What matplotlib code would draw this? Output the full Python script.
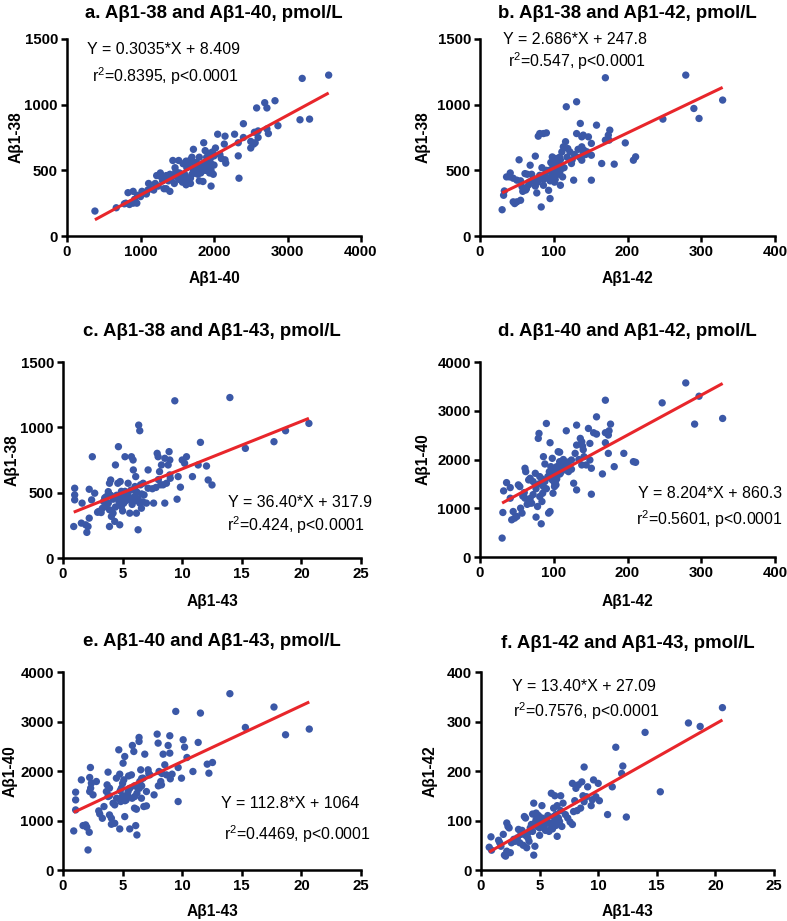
import matplotlib
matplotlib.use('Agg')
import matplotlib.pyplot as plt
import numpy as np

plt.rcParams['font.family'] = ['Liberation Sans', 'DejaVu Sans']
plt.rcParams['mathtext.fontset'] = 'custom'
plt.rcParams['mathtext.rm'] = 'Liberation Sans'
plt.rcParams['mathtext.it'] = 'Liberation Sans'
plt.rcParams['mathtext.bf'] = 'Liberation Sans:bold'
plt.rcParams['mathtext.default'] = 'regular'

# ---------------- data ----------------
# a. Abeta1-38 vs Abeta1-40
a_x = [380, 670, 3200, 3560, 3170, 3300, 2870, 2830, 2690, 2580, 2720, 2720, 2740, 2340, 2400,
       2280, 2330, 2330, 2050, 2150, 2140, 2600, 2500, 2500, 2550, 2400, 2560, 2150, 2160, 1960,
       1940, 1940, 2020, 2000, 1860, 1720, 1700, 1720, 1800, 1880, 1900, 1950, 2080, 2100, 1800,
       1850, 1600, 1620, 1580, 1620, 1650, 1440, 1520, 1480, 1450, 1500, 1530, 1550, 1560, 1600,
       1620, 1650, 1680, 1700, 1720, 1750, 1780, 1800, 1830, 1850, 1870, 1900, 1930, 1960, 1980,
       1400, 1420, 1380, 1400, 1350, 1300, 1270, 1220, 1200, 1240, 1150, 1100, 1050, 1020, 1000,
       960, 900, 830, 920, 900, 850, 800, 780, 950, 1080, 1180, 1320, 1460, 1530, 1570,
       1680, 1740, 1780, 1820, 1880, 1920, 1960, 2000, 1990, 1630, 1470, 1350, 1680, 1760, 2600,
       2540, 1280, 1110]
a_y = [190, 215, 1200, 1225, 885, 890, 840, 1030, 1015, 975, 975, 815, 780, 440, 855,
       775, 710, 610, 775, 760, 700, 750, 720, 670, 790, 750, 710, 580, 555, 380,
       480, 630, 670, 610, 710, 660, 600, 560, 600, 650, 560, 560, 620, 590, 420,
       415, 420, 390, 550, 570, 540, 575, 575, 490, 460, 450, 480, 440, 470, 470,
       450, 430, 440, 470, 500, 520, 510, 530, 540, 520, 560, 600, 580, 600, 640,
       470, 440, 420, 340, 360, 420, 480, 460, 400, 380, 360, 350, 330, 340, 300,
       310, 340, 330, 280, 250, 240, 250, 245, 250, 320, 350, 360, 400, 430, 410,
       400, 480, 470, 480, 500, 520, 500, 540, 470, 520, 520, 460, 580, 560, 800,
       700, 450, 400]

# b. Abeta1-38 vs Abeta1-42
b_x = [30, 32, 33, 36, 40, 41, 45, 50, 47, 53, 50, 55, 57, 61, 63, 67, 68, 72, 75, 77,
       79, 81, 86, 90, 81, 86, 90, 93, 95, 83, 97, 99, 102, 104, 106, 98, 108, 111, 113, 109,
       117, 131, 116, 119, 124, 127, 131, 136, 138, 140, 138, 141, 138, 145, 147, 151, 151, 151, 158, 165,
       170, 170, 174, 176, 175, 182, 197, 208, 211, 248, 279, 290, 297, 329,
       88, 92, 95, 97, 100, 100, 102, 104, 105, 107, 108, 110, 112, 98, 103, 106, 94, 96, 101, 109,
       114, 118, 122, 125, 128, 133, 135, 140, 143, 84, 80, 78, 75, 72, 70, 66, 62, 58, 55, 45,
       64, 86]
b_y = [200, 310, 343, 450, 450, 480, 260, 260, 247, 580, 425, 272, 374, 475, 361, 412, 539, 437, 608, 328,
       760, 780, 780, 785, 462, 386, 500, 348, 285, 221, 450, 500, 539, 577, 526, 602, 600, 640, 679, 386,
       984, 1022, 718, 666, 552, 425, 780, 857, 755, 768, 679, 653, 577, 641, 755, 705, 615, 425, 844, 552,
       730, 1205, 768, 806, 730, 547, 709, 577, 603, 890, 1225, 971, 895, 1035,
       470, 440, 420, 480, 460, 520, 430, 500, 560, 540, 480, 510, 450, 545, 590, 470, 500, 560, 410, 580,
       520, 600, 640, 580, 620, 660, 600, 640, 620, 520, 440, 410, 380, 420, 470, 390, 350, 340, 420, 440,
       470, 430]

# c. Abeta1-38 vs Abeta1-43
c_x = [0.9, 0.98, 0.98, 0.98, 1.54, 1.6, 1.9, 2.0, 2.1, 2.2, 2.2, 2.46, 2.4, 2.66, 3.0, 3.2, 3.4, 3.6, 3.64, 3.8,
       3.9, 4.0, 3.9, 4.06, 3.9, 4.2, 4.34, 4.4, 4.65, 4.6, 4.8, 4.6, 4.76, 4.9, 5.04, 5.2, 5.1, 5.26, 5.46, 5.6,
       5.74, 5.88, 5.9, 6.1, 6.04, 6.16, 6.16, 6.3, 6.35, 6.44, 6.44, 6.58, 6.72, 6.8, 7.0, 7.14, 7.14, 7.6, 7.9, 7.98,
       8.1, 8.2, 8.26, 8.54, 8.54, 8.68, 8.82, 8.9, 8.96, 8.96, 9.38, 9.57, 9.66, 9.85, 10.0, 10.2, 10.36, 10.86, 11.34, 11.53,
       12.04, 12.18, 12.5, 14.0, 15.3, 17.7, 18.67, 20.63,
       4.2, 4.5, 4.7, 4.9, 5.0, 5.1, 5.3, 5.4, 5.5, 5.6, 5.7, 5.8, 6.0, 6.2, 6.3, 6.5, 6.6, 4.0, 3.5, 3.8,
       4.4, 5.0, 5.2, 6.1, 6.7, 2.9, 3.3, 7.5, 8.0, 8.4, 9.0, 7.8]
c_y = [241, 534, 483, 445, 267, 420, 254, 196, 241, 305, 526, 775, 445, 496, 356, 348, 432, 394, 470, 508,
       572, 597, 369, 318, 241, 343, 280, 712, 852, 572, 585, 470, 254, 394, 470, 775, 432, 483, 572, 343,
       775, 750, 674, 623, 547, 508, 343, 216, 1017, 974, 420, 381, 572, 483, 420, 534, 674, 420, 801, 775,
       661, 560, 712, 763, 420, 572, 712, 814, 750, 636, 1203, 450, 623, 542, 750, 725, 775, 623, 712, 885,
       704, 597, 559, 1228, 839, 890, 974, 1030,
       450, 480, 430, 510, 460, 420, 440, 500, 470, 450, 520, 410, 470, 500, 450, 560, 490, 480, 460, 420,
       390, 360, 510, 440, 430, 350, 380, 530, 600, 560, 610, 540]

# d. Abeta1-40 vs Abeta1-42
d_x = [30, 31, 32, 36, 41, 41, 45, 43, 47, 50, 52, 54, 55, 57, 61, 62, 60, 61, 66, 68,
       67, 70, 72, 75, 76, 78, 79, 80, 81, 81, 83, 84, 85, 86, 86, 88, 90, 93, 95, 95,
       96, 97, 98, 99, 101, 102, 103, 104, 106, 108, 109, 111, 113, 117, 118, 120, 124, 127, 129, 131,
       131, 131, 136, 138, 138, 139, 141, 144, 147, 149, 149, 151, 151, 154, 158, 158, 166, 170, 170, 170,
       174, 175, 177, 174, 182, 195, 208, 211, 247, 279, 291, 297, 329,
       88, 92, 95, 98, 100, 102, 104, 106, 108, 110, 112, 115, 118, 98, 101, 103, 96, 94, 108, 113,
       90, 84, 80, 76, 72, 68, 64, 58, 120, 124, 134, 140]
d_y = [388, 913, 1356, 1526, 1424, 1206, 933, 763, 797, 831, 1479, 1445, 1002, 900, 1820, 1751, 1322, 1206, 1581, 1615,
       1104, 1104, 1547, 1717, 818, 1036, 2433, 2535, 1649, 1240, 681, 1138, 1308, 1445, 2058, 1908, 2739, 900, 933, 2344,
       1853, 1751, 2024, 1308, 1445, 1547, 1683, 1853, 2160, 1956, 1717, 1922, 1785, 2589, 1853, 1751, 1990, 1513, 2126, 2705,
       2296, 1376, 2433, 2364, 1888, 2276, 2058, 1888, 2637, 2330, 1990, 1820, 1288, 2549, 2521, 2875, 1704, 3216, 2549, 2344,
       2501, 2589, 2726, 2126, 1853, 2126, 1956, 1942, 3162, 3571, 2726, 3298, 2842,
       1550, 1650, 1700, 1580, 1750, 1650, 1600, 1800, 1700, 1900, 1850, 1950, 1780, 1820, 1520, 1480, 1620, 1750, 2150, 2000,
       1400, 1600, 1500, 1400, 1280, 1200, 1080, 1250, 1950, 1800, 2000, 2200]

# e. Abeta1-40 vs Abeta1-43
e_x = [0.9, 1.06, 1.06, 1.06, 1.54, 1.68, 1.9, 2.0, 2.2, 2.1, 2.3, 2.24, 2.38, 2.32, 2.24, 2.52, 2.8, 3.0, 3.08, 3.3,
       3.44, 3.64, 3.78, 3.78, 3.7, 3.9, 3.9, 4.06, 4.06, 4.34, 4.34, 4.48, 4.68, 4.76, 4.76, 4.84, 4.9, 5.04, 5.18, 5.1,
       5.18, 5.26, 5.3, 5.46, 5.6, 5.74, 5.82, 5.94, 6.02, 6.1, 6.2, 6.16, 6.3, 6.38, 6.38, 6.44, 6.52, 6.58, 6.72, 6.78,
       6.86, 7.0, 7.0, 7.14, 7.28, 7.64, 7.9, 7.98, 8.06, 8.2, 8.26, 8.4, 8.54, 8.68, 8.82, 8.96, 8.96, 9.0, 9.15, 9.46,
       9.66, 9.66, 9.94, 10.08, 10.2, 10.4, 10.9, 11.34, 11.53, 12.1, 12.24, 12.54, 14.0, 15.3, 17.7, 18.67, 20.66,
       4.5, 4.8, 5.0, 5.2, 5.4, 5.6, 5.8, 6.0, 6.2, 6.4, 4.2, 3.9, 5.5, 6.6, 7.2, 8.0, 8.3, 6.0, 6.6, 5.0]
e_y = [789, 1214, 1416, 1572, 1821, 897, 911, 863, 762, 405, 2071, 1869, 1754, 1653, 1585, 1518, 1788, 1194, 1133, 1045,
       1282, 1585, 1484, 1977, 1720, 1653, 1113, 1045, 924, 944, 1315, 1855, 2428, 1936, 830, 1383, 1653, 2158, 2293, 1821,
       1079, 1484, 1416, 1585, 830, 1922, 2516, 2394, 1484, 897, 708, 1228, 1653, 2678, 2597, 1788, 2024, 1450, 1855, 1282,
       2340, 1295, 1585, 2024, 1922, 1518, 2745, 2563, 1990, 1788, 1720, 2340, 2125, 1922, 2516, 2712, 2361, 1842, 1936, 3204,
       1383, 2071, 1855, 2631, 2482, 2273, 1990, 2577, 3170, 2138, 1956, 2172, 3562, 2880, 3292, 2732, 2847,
       1450, 1600, 1500, 1400, 1520, 1650, 1450, 1700, 1550, 1650, 1350, 1500, 1900, 1850, 1950, 1700, 1950, 1250, 1700, 1750]

# f. Abeta1-42 vs Abeta1-43
f_x = [0.7, 0.85, 0.9, 1.5, 1.6, 1.7, 1.9, 2.0, 2.1, 2.2, 2.2, 2.3, 2.4, 2.5, 2.8, 3.0, 3.2, 3.3, 3.5, 3.6,
       3.7, 3.8, 3.8, 3.9, 4.0, 4.0, 4.1, 4.3, 4.4, 4.5, 4.5, 4.6, 4.6, 4.7, 4.8, 4.9, 5.0, 5.0, 5.1, 5.2,
       5.2, 5.4, 5.5, 5.6, 5.8, 5.9, 6.0, 6.1, 6.2, 6.2, 6.3, 6.4, 6.4, 6.5, 6.5, 6.6, 6.7, 6.8, 6.9, 7.0,
       7.2, 7.6, 7.8, 7.8, 7.9, 8.0, 8.1, 8.2, 8.3, 8.5, 8.6, 8.7, 8.8, 8.8, 9.0, 9.1, 9.4, 9.5, 9.6, 9.8,
       10.0, 10.1, 10.8, 11.2, 11.5, 12.0, 12.1, 12.4, 14.0, 15.3, 17.7, 18.7, 20.6,
       4.2, 4.7, 5.3, 5.7, 6.0, 6.3, 3.4, 2.9, 5.0, 5.5, 4.4, 6.8, 7.4, 2.6, 3.1]
f_y = [46, 67, 40, 60, 55, 48, 72, 30, 28, 38, 95, 88, 85, 35, 62, 60, 82, 55, 80, 50,
       108, 105, 70, 45, 65, 75, 58, 92, 113, 30, 135, 48, 95, 115, 88, 110, 70, 100, 95, 130,
       105, 88, 80, 100, 78, 95, 155, 83, 108, 125, 150, 112, 90, 68, 130, 105, 98, 150, 88, 135,
       112, 97, 92, 175, 118, 140, 165, 120, 172, 125, 178, 150, 208, 138, 148, 168, 130, 142, 182, 148,
       175, 140, 112, 168, 248, 195, 210, 107, 278, 158, 297, 290, 328,
       85, 102, 92, 110, 85, 100, 72, 58, 85, 95, 78, 120, 105, 55, 65]

# fitted lines (from the reference text)
slopes = [0.3035, 2.686, 36.40, 8.204, 112.8, 13.40]
intercepts = [8.409, 247.8, 317.9, 860.3, 1064, 27.09]
titles = ['a. A\u03b21-38 and A\u03b21-40, pmol/L', 'b. A\u03b21-38 and A\u03b21-42, pmol/L',
          'c. A\u03b21-38 and A\u03b21-43, pmol/L', 'd. A\u03b21-40 and A\u03b21-42, pmol/L',
          'e. A\u03b21-40 and A\u03b21-43, pmol/L', 'f. A\u03b21-42 and A\u03b21-43, pmol/L']
xlabels = ['A\u03b21-40', 'A\u03b21-42', 'A\u03b21-43', 'A\u03b21-42', 'A\u03b21-43', 'A\u03b21-43']
ylabels = ['A\u03b21-38', 'A\u03b21-38', 'A\u03b21-38', 'A\u03b21-40', 'A\u03b21-40', 'A\u03b21-42']
eq_texts = ['Y = 0.3035*X + 8.409', 'Y = 2.686*X + 247.8', 'Y = 36.40*X + 317.9',
            'Y = 8.204*X + 860.3', 'Y = 112.8*X + 1064', 'Y = 13.40*X + 27.09']
r_texts = ['r$^{2}$=0.8395, p<0.0001', 'r$^{2}$=0.547, p<0.0001', 'r$^{2}$=0.424, p<0.0001',
           'r$^{2}$=0.5601, p<0.0001', 'r$^{2}$=0.4469, p<0.0001', 'r$^{2}$=0.7576, p<0.0001']
xticks = [[0, 1000, 2000, 3000, 4000], [0, 100, 200, 300, 400], [0, 5, 10, 15, 20, 25],
          [0, 100, 200, 300, 400], [0, 5, 10, 15, 20, 25], [0, 5, 10, 15, 20, 25]]
yticks = [[0, 500, 1000, 1500], [0, 500, 1000, 1500], [0, 500, 1000, 1500],
          [0, 1000, 2000, 3000, 4000], [0, 1000, 2000, 3000, 4000], [0, 100, 200, 300, 400]]

xs = [a_x, b_x, c_x, d_x, e_x, f_x]
ys = [a_y, b_y, c_y, d_y, e_y, f_y]

# ---------------- layout (pixels) ----------------
W, H = 787, 921
fig = plt.figure(figsize=(W / 100, H / 100), dpi=100)

# left, right, top, bottom of each plot area in pixels
boxes = [(67, 361, 39, 236), (480, 775, 39, 236),
         (63, 361, 362, 558), (480, 775, 362, 557),
         (63, 361, 672, 870), (481, 774, 672, 870)]
title_y = [13, 13, 332, 332, 642, 643]
xlabel_y = [278, 278, 601, 601, 911, 911]
ylabel_x = [16, 423, 12, 423, 10, 430]
eq_pos = [(87, 50), (503, 40), (228, 502), (638, 493), (221, 803), (512, 686)]
r_pos = [(92, 76), (508, 61), (227, 525), (636, 519), (224, 834), (513, 711)]

BLUE = '#3b58a7'
RED = '#e8262b'

for i in range(6):
    l, r, t, b = boxes[i]
    ax = fig.add_axes([l / W, 1 - b / H, (r - l) / W, (b - t) / H])
    x = np.array(xs[i], dtype=float)
    y = np.array(ys[i], dtype=float)
    ax.scatter(x, y, s=28, color=BLUE, edgecolors='none', zorder=3, clip_on=False)
    lx = np.array([x.min(), x.max()])
    ax.plot(lx, slopes[i] * lx + intercepts[i], color=RED, lw=2.2, zorder=4, solid_capstyle='butt')
    ax.set_xlim(xticks[i][0], xticks[i][-1])
    ax.set_ylim(yticks[i][0], yticks[i][-1])
    ax.set_xticks(xticks[i])
    ax.set_yticks(yticks[i])
    for s in ['top', 'right']:
        ax.spines[s].set_visible(False)
    for s in ['left', 'bottom']:
        ax.spines[s].set_linewidth(1.8)
    ax.tick_params(direction='out', length=4.5, width=1.8, labelsize=10.8, pad=2)
    for lab in ax.get_xticklabels() + ax.get_yticklabels():
        lab.set_fontweight('bold')
    h = b - t
    w = r - l
    ax.set_xlabel(xlabels[i], fontsize=11.2, fontweight='bold', va='center')
    ax.xaxis.set_label_coords(0.5, -(xlabel_y[i] - b) / h)
    ax.set_ylabel(ylabels[i], fontsize=11.2, fontweight='bold', va='center')
    ax.yaxis.set_label_coords(-(l - ylabel_x[i]) / w, 0.5)
    fig.text((l + r) / 2 / W, 1 - title_y[i] / H, titles[i], ha='center', va='center',
             fontsize=13.4, fontweight='bold')
    fig.text(eq_pos[i][0] / W, 1 - eq_pos[i][1] / H, eq_texts[i], ha='left', va='center', fontsize=11.5)
    fig.text(r_pos[i][0] / W, 1 - r_pos[i][1] / H, r_texts[i], ha='left', va='center', fontsize=11.4)

fig.savefig('out.png', dpi=100)
